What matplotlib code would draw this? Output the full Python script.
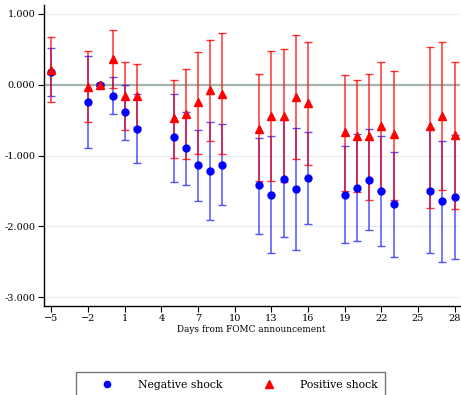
import matplotlib

matplotlib.use("Agg")
import matplotlib.pyplot as plt
from matplotlib.lines import Line2D

# ── data ───────────────────────────────────────────────────────────
days = [-5, -2, -1, 0, 1, 2, 5, 6, 7, 8, 9, 12, 13, 14, 15, 16,
        19, 20, 21, 22, 23, 26, 27, 28]

neg_est = [0.18, -0.245, 0.0, -0.16, -0.39, -0.62, -0.74, -0.90, -1.14, -1.225,
           -1.135, -1.42, -1.55, -1.33, -1.47, -1.32, -1.55, -1.455, -1.34, -1.50,
           -1.69, -1.50, -1.64, -1.585]
neg_hi = [0.52, 0.40, 0.02, 0.10, 0.0, -0.135, -0.127, -0.39, -0.64, -0.535,
          -0.563, -0.75, -0.727, -0.50, -0.61, -0.676, -0.86, -0.70, -0.63, -0.73,
          -0.95, -0.62, -0.79, -0.71]
neg_lo = [-0.155, -0.89, -0.02, -0.42, -0.78, -1.10, -1.37, -1.41, -1.64, -1.91,
          -1.70, -2.10, -2.38, -2.15, -2.33, -1.96, -2.23, -2.21, -2.05, -2.27,
          -2.43, -2.37, -2.50, -2.46]

pos_est = [0.21, -0.03, 0.0, 0.36, -0.165, -0.165, -0.475, -0.41, -0.25, -0.075,
           -0.127, -0.63, -0.437, -0.437, -0.173, -0.26, -0.676, -0.72, -0.73, -0.58,
           -0.70, -0.59, -0.437, -0.71]
pos_hi = [0.67, 0.465, 0.02, 0.765, 0.32, 0.29, 0.07, 0.225, 0.455, 0.63,
          0.72, 0.15, 0.47, 0.50, 0.70, 0.605, 0.137, 0.06, 0.155, 0.315,
          0.19, 0.53, 0.60, 0.315]
pos_lo = [-0.25, -0.525, -0.02, -0.05, -0.64, -0.60, -1.04, -1.056, -0.98, -0.80,
          -0.98, -1.36, -1.36, -1.38, -1.056, -1.14, -1.50, -1.51, -1.62, -1.50,
          -1.63, -1.74, -1.48, -1.75]

xticks = list(range(-5, 29, 3))
yticks = [-3, -2, -1, 0, 1]

# ── figure ─────────────────────────────────────────────────────────
plt.rcParams["font.family"] = ["DejaVu Serif"]

fig = plt.figure(figsize=(4.61, 3.95), dpi=100)
ax = fig.add_axes([43.5 / 461, 1 - 306 / 395, 416 / 461, 301 / 395])

for y in yticks:
    ax.axhline(y, color="#ececec", lw=0.9, zorder=0)
ax.axhline(0, color="#a3b5ab", lw=1.6, zorder=1)


def err(est, lo, hi):
    return [[e - l for e, l in zip(est, lo)], [h - e for e, h in zip(est, hi)]]


ax.errorbar(days, neg_est, yerr=err(neg_est, neg_lo, neg_hi), fmt="none",
            ecolor="blue", elinewidth=1.1, capsize=2.8, capthick=1.0,
            alpha=0.68, zorder=2)
ax.errorbar(days, pos_est, yerr=err(pos_est, pos_lo, pos_hi), fmt="none",
            ecolor="red", elinewidth=1.1, capsize=2.8, capthick=1.0,
            alpha=0.8, zorder=3)
ax.plot(days, neg_est, "o", color="blue", ms=5, zorder=4)
ax.plot(days, pos_est, "^", color="red", ms=6, zorder=5)

ax.set_xlim(-5.65, 28.4)
ax.set_ylim(-3.12, 1.12)
ax.set_xticks(xticks)
ax.set_yticks(yticks)
ax.set_yticklabels([f"{v:.3f}" for v in yticks])
ax.tick_params(labelsize=7, length=4, width=0.8, pad=2, color="black")
ax.set_xlabel("Days from FOMC announcement", fontsize=6.4, labelpad=1.5)

for s in ["top", "right"]:
    ax.spines[s].set_visible(False)
for s in ["left", "bottom"]:
    ax.spines[s].set_linewidth(1.0)

handles = [
    Line2D([], [], ls="none", marker="o", color="blue", ms=4.5),
    Line2D([], [], ls="none", marker="^", color="red", ms=5.5),
]
fig.legend(handles, ["Negative shock", "Positive shock"], ncol=2,
           loc="upper left", bbox_to_anchor=(76 / 461, 1 - 372 / 395),
           borderaxespad=0, fontsize=7.8, frameon=True, fancybox=False,
           edgecolor="#555555", handlelength=4.25, handletextpad=0.74,
           columnspacing=2.2, borderpad=0.7)

fig.savefig("out.png", dpi=100)
